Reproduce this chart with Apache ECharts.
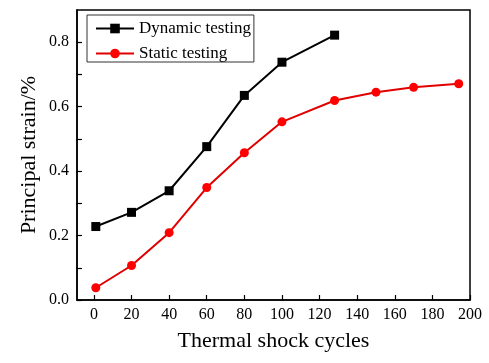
<!DOCTYPE html>
<html><head><meta charset="utf-8">
<script src="https://cdn.jsdelivr.net/npm/echarts@6/dist/echarts.min.js"></script>
<style>html,body{margin:0;padding:0;background:#fff}#c{width:489px;height:363px}</style>
</head><body><div id="c"></div>
<script>
const dynamicX = [1, 20, 40, 60, 80, 100, 128];
const dynamicY = [0.228, 0.272, 0.339, 0.476, 0.635, 0.738, 0.822];
const staticX = [1, 20, 40, 60, 80, 100, 128, 150, 170, 194];
const staticY = [0.038, 0.107, 0.209, 0.349, 0.457, 0.553, 0.619, 0.645, 0.660, 0.671];
const xTicks = [0, 20, 40, 60, 80, 100, 120, 140, 160, 180, 200];
const yLabels = [0, 0.2, 0.4, 0.6, 0.8];
const yTicks = [0, 0.1, 0.2, 0.3, 0.4, 0.5, 0.6, 0.7, 0.8];

const FONT = "'Liberation Serif','Times New Roman',serif";
const chart = echarts.init(document.getElementById('c'), null, {renderer: 'canvas'});
chart.setOption({
  animation: false,
  backgroundColor: '#fff',
  textStyle: {fontFamily: FONT, color: '#000'},
  grid: {left: 77, right: 19, top: 10, bottom: 63, outerBoundsMode: 'none', containLabel: false,
    show: true, borderColor: '#000', borderWidth: 1.5, backgroundColor: 'transparent'},
  legend: {
    orient: 'vertical', left: 87, top: 15,
    itemWidth: 38, itemHeight: 12, itemGap: 8,
    padding: [5, 3, 0, 8],
    borderColor: '#333', borderWidth: 1,
    textStyle: {fontFamily: FONT, fontSize: 17, color: '#000'},
    data: ['Dynamic testing', 'Static testing']
  },
  xAxis: {
    type: 'value', min: -9, max: 200,
    name: 'Thermal shock cycles', nameLocation: 'middle', nameGap: 30,
    nameMoveOverlap: false,
    nameTextStyle: {fontFamily: FONT, fontSize: 22, color: '#000'},
    axisLine: {onZero: false, lineStyle: {color: '#000', width: 1.5}},
    axisTick: {inside: true, length: 5, customValues: xTicks, lineStyle: {color: '#000', width: 1.2}},
    axisLabel: {customValues: xTicks, fontFamily: FONT, fontSize: 16, color: '#000', margin: 7},
    splitLine: {show: false}
  },
  yAxis: {
    type: 'value', min: 0, max: 0.9,
    name: 'Principal strain/%', nameLocation: 'middle', nameGap: 37, nameRotate: 90,
    nameMoveOverlap: false,
    nameTextStyle: {fontFamily: FONT, fontSize: 22, color: '#000'},
    axisLine: {show: true, onZero: false, lineStyle: {color: '#000', width: 1.5}},
    axisTick: {show: true, inside: true, length: 5, customValues: yTicks, lineStyle: {color: '#000', width: 1.2}},
    axisLabel: {customValues: yLabels, fontFamily: FONT, fontSize: 16, color: '#000', margin: 8,
      formatter: v => v.toFixed(1)},
    splitLine: {show: false}
  },
  series: [
    {
      name: 'Dynamic testing', type: 'line',
      data: dynamicX.map((x, i) => [x, dynamicY[i]]),
      symbol: 'rect', symbolSize: 9,
      lineStyle: {color: '#000', width: 2},
      itemStyle: {color: '#000'}
    },
    {
      name: 'Static testing', type: 'line',
      data: staticX.map((x, i) => [x, staticY[i]]),
      symbol: 'circle', symbolSize: 9,
      lineStyle: {color: '#e00000', width: 2},
      itemStyle: {color: '#ff0000'}
    }
  ]
});
</script></body></html>
